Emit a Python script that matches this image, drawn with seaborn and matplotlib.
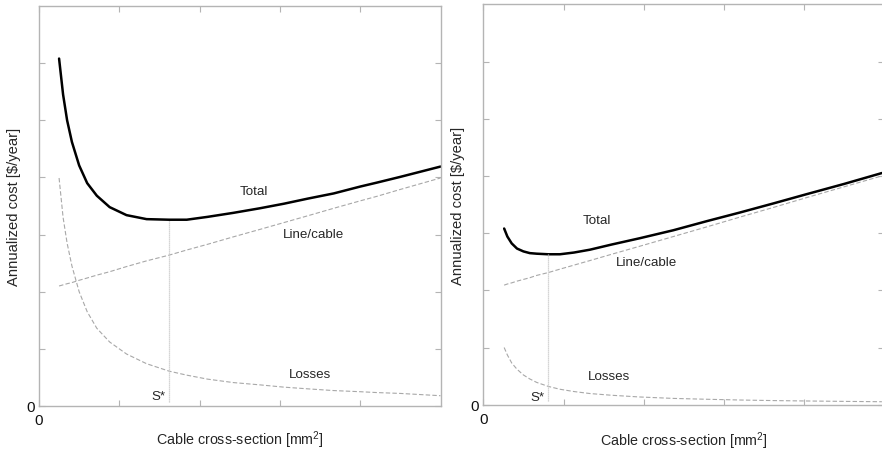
import matplotlib
matplotlib.use("Agg")
import matplotlib.pyplot as plt
import seaborn as sns
import pandas as pd

# ---- data (arbitrary units) ----
left_x = [0.25, 0.30, 0.35, 0.41, 0.50, 0.60, 0.72, 0.88, 1.09, 1.34, 1.62, 1.84,
          2.10, 2.42, 2.75, 3.05, 3.35, 3.67, 4.00, 4.21, 4.50, 4.75, 5.00]
left_total = [6.08, 5.45, 5.00, 4.62, 4.21, 3.90, 3.68, 3.48, 3.34, 3.27, 3.26, 3.26,
              3.31, 3.38, 3.46, 3.54, 3.63, 3.72, 3.84, 3.91, 4.01, 4.10, 4.19]
left_cable = [2.10, 2.12, 2.14, 2.16, 2.20, 2.24, 2.29, 2.35, 2.44, 2.54, 2.64, 2.73,
              2.83, 2.96, 3.09, 3.21, 3.33, 3.46, 3.59, 3.67, 3.79, 3.89, 3.99]
left_losses = [3.99, 3.30, 2.85, 2.45, 2.00, 1.65, 1.36, 1.12, 0.91, 0.74, 0.61, 0.54,
               0.47, 0.41, 0.37, 0.33, 0.30, 0.27, 0.25, 0.235, 0.22, 0.20, 0.18]
left_sstar = 1.625
left_tmin = 3.26

right_x = [0.26, 0.30, 0.354, 0.42, 0.50, 0.58, 0.665, 0.81, 0.956, 1.13, 1.33, 1.60,
           1.95, 2.37, 2.79, 3.20, 3.62, 4.03, 4.50, 4.97]
right_total = [3.08, 2.94, 2.82, 2.73, 2.68, 2.65, 2.64, 2.63, 2.63, 2.66, 2.71, 2.80,
               2.91, 3.05, 3.21, 3.36, 3.52, 3.68, 3.86, 4.05]
right_cable = [2.09, 2.11, 2.13, 2.16, 2.19, 2.22, 2.26, 2.31, 2.37, 2.44, 2.52, 2.63,
               2.77, 2.94, 3.11, 3.28, 3.45, 3.62, 3.81, 4.00]
right_losses = [1.00, 0.87, 0.73, 0.62, 0.52, 0.45, 0.39, 0.32, 0.27, 0.23, 0.195, 0.165,
                0.135, 0.11, 0.095, 0.082, 0.072, 0.065, 0.058, 0.052]
right_sstar = 0.81
right_tmin = 2.63

series_labels = ["Total", "Line/cable", "Losses", "S*"]
xlabel = "Cable cross-section [mm$^2$]"
ylabel = "Annualized cost [$/year]"

# label positions (data coords) for each panel
left_label_pos = [(2.67, 3.77), (3.42, 3.01), (3.37, 0.56), (1.57, 0.17)]
right_label_pos = [(1.42, 3.23), (2.03, 2.49), (1.57, 0.50), (0.77, 0.13)]

sns.set_theme(style="white")
plt.rcParams["font.family"] = ["Liberation Sans", "DejaVu Sans"]
plt.rcParams["mathtext.fontset"] = "custom"
plt.rcParams["mathtext.rm"] = "Liberation Sans"

fig = plt.figure(figsize=(8.82, 4.52), dpi=100)
ax1 = fig.add_axes([39 / 882, 45 / 452, 401.5 / 882, 400 / 452])
ax2 = fig.add_axes([483.3 / 882, 46.3 / 452, 401 / 882, 400.4 / 452])

spine_col = "#b4b4b4"
curve_col = "#a8a8a8"


def draw(ax, xs, total, cable, losses, sstar, tmin, pos, xlab_y):
    df = pd.DataFrame({"x": xs, "total": total, "cable": cable, "losses": losses})
    sns.lineplot(data=df, x="x", y="total", ax=ax, color="black", lw=1.8)
    sns.lineplot(data=df, x="x", y="cable", ax=ax, color=curve_col, lw=0.8,
                 linestyle=(0, (4, 2)))
    sns.lineplot(data=df, x="x", y="losses", ax=ax, color=curve_col, lw=0.8,
                 linestyle=(0, (4, 2)))
    ax.vlines(sstar, 0.07, tmin, color="#c8c8c8", lw=0.9, linestyle=(0, (1, 0.6)))
    ax.set_xlim(0, 5)
    ax.set_ylim(0, 7)
    ax.set_xticks([0, 1, 2, 3, 4])
    ax.set_xticklabels(["0", "", "", "", ""])
    ax.set_yticks([0, 1, 2, 3, 4, 5, 6])
    ax.set_yticklabels(["0", "", "", "", "", "", ""])
    ax.tick_params(axis="both", direction="in", length=4, width=0.8, color=spine_col,
                   labelsize=11, labelcolor="#111111",
                   top=True, right=True, bottom=True, left=True)
    ax.tick_params(axis="x", pad=5)
    ax.tick_params(axis="y", pad=3)
    for sp in ax.spines.values():
        sp.set_color(spine_col)
        sp.set_linewidth(1.0)
    ax.set_xlabel(xlabel, fontsize=10.3)
    ax.xaxis.set_label_coords(0.5, xlab_y)
    ax.set_ylabel(ylabel, fontsize=10.6)
    ax.yaxis.set_label_coords(-0.045, 0.5)
    for (tx, ty), lab in zip(pos[:3], series_labels[:3]):
        ax.text(tx, ty, lab, fontsize=9.6, ha="center", va="center")
    ax.text(pos[3][0], pos[3][1], series_labels[3], fontsize=9.6, ha="right", va="center")


draw(ax1, left_x, left_total, left_cable, left_losses, left_sstar, left_tmin,
     left_label_pos, -0.057)
draw(ax2, right_x, right_total, right_cable, right_losses, right_sstar, right_tmin,
     right_label_pos, -0.062)

fig.savefig("out.png", dpi=100)
